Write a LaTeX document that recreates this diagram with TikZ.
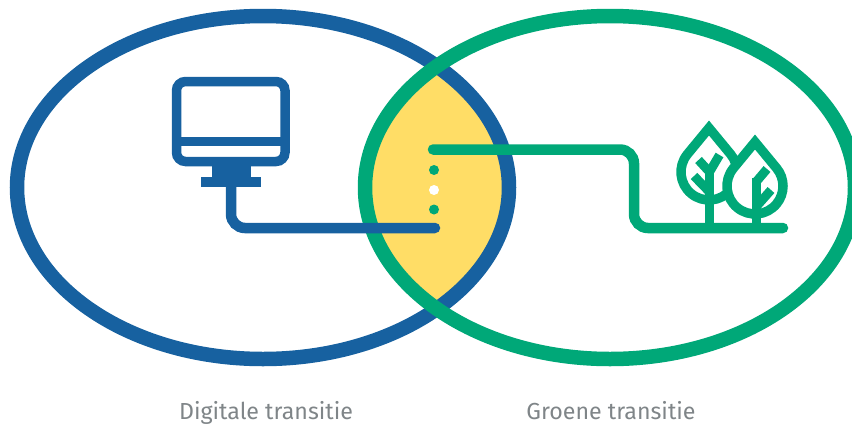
\documentclass[tikz,border=0pt]{standalone}
\usepackage{fontspec}
\setmainfont[Ligatures=NoCommon,Contextuals=NoAlternate]{Fira Sans}
\definecolor{dblue}{HTML}{1761A0}
\definecolor{dgreen}{HTML}{00A878}
\definecolor{dyellow}{HTML}{FFDD66}
\definecolor{dgray}{HTML}{7F8588}
\tikzset{
  ring/.style={line width=14.5pt},
  cable/.style={line width=10.5pt,line cap=round,rounded corners=14pt},
  iconline/.style={line width=9.5pt},
  leaf/.style={line width=9.5pt,dgreen,fill=white,miter limit=10},
  branch/.style={line width=9pt,dgreen},
  caption/.style={text=dgray,font=\fontsize{23.2}{26}\selectfont,inner sep=0pt,anchor=base},
  dotmark/.style={circle,inner sep=0pt,minimum size=10pt}
}
\begin{document}
\begin{tikzpicture}[x=1pt,y=1pt,yscale=-1]
\useasboundingbox (0,0) rectangle (852,426);
\clip (0,0) rectangle (852,426);
\coordinate (cb) at (263,187.5);
\coordinate (cg) at (610,187.5);
% overlap
\begin{scope}
  \clip (cb) ellipse [x radius=246,y radius=171.5];
  \fill[dyellow] (cg) ellipse [x radius=245,y radius=171.5];
\end{scope}
% rings
\draw[ring,dblue] (cb) ellipse [x radius=246,y radius=171.5];
\draw[ring,dgreen] (cg) ellipse [x radius=245,y radius=171.5];
% monitor
\draw[iconline,dblue,rounded corners=9pt] (176.5,81.5) rectangle (285,161.5);
\draw[iconline,dblue] (176.5,141.5) -- (285,141.5);
\fill[dblue] (211.7,165) rectangle (251,177);
\fill[dblue] (201,176.7) rectangle (260.7,187);
% connectors
\coordinate (standfoot) at (231,186);
\coordinate (bend) at (231,228);
\coordinate (blueend) at (435,228);
\coordinate (greenstart) at (433,149.5);
\coordinate (gb1) at (634,149.5);
\coordinate (gb2) at (634,228);
\coordinate (greenend) at (783,228);
\draw[cable,dblue] (standfoot) -- (bend) -- (blueend);
% trees
\draw[leaf] (687.4,154.2) arc[start angle=219.5,end angle=-39.5,radius=28] -- (709,128) -- cycle;
\draw[branch] (709.5,228) -- (709.5,165);
\draw[branch] (709.5,172) -- (698.5,160);
\draw[branch] (709.5,172) -- (719.5,155);
\draw[branch] (709.5,192) -- (694,176);
\draw[leaf] (733.4,168.2) arc[start angle=219.5,end angle=-39.5,radius=28] -- (755,142) -- cycle;
\draw[branch] (756,228) -- (756,178);
\draw[branch] (756,182) -- (767,169);
\draw[branch] (756,207) -- (771,190);
\draw[cable,dgreen] (greenstart) -- (gb1) -- (gb2) -- (greenend);
% dots
\node[dotmark,fill=dgreen] (d1) at (434,170) {};
\node[dotmark,fill=white] (d2) at (434,190) {};
\node[dotmark,fill=dgreen] (d3) at (434,209.5) {};
% captions
\node[caption] (lblb) at (266,419.5) {Digitale transitie};
\node[caption] (lblg) at (611,419.5) {Groene transitie};
\end{tikzpicture}
\end{document}
